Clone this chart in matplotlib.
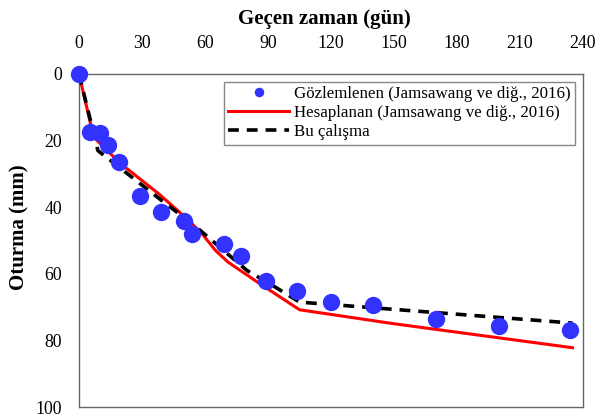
import numpy as np
import matplotlib
matplotlib.use('Agg')
import matplotlib.pyplot as plt

plt.rcParams['font.family'] = ['Liberation Serif', 'DejaVu Serif']

# Gözlemlenen oturma (Jamsawang ve diğ., 2016)
obs_day = [0, 5, 10, 14, 19, 29, 39, 50, 54, 69, 77, 89, 104, 120, 140, 170, 200, 234]
obs_mm = [0, 17.3, 17.8, 21.2, 26.5, 36.5, 41.5, 44.2, 48.0, 51.2, 54.8, 62.3, 65.2, 68.5, 69.5, 73.7, 75.7, 76.8]

# Hesaplanan (Jamsawang ve diğ., 2016)
calc_day = [0, 7, 20, 30, 38, 47, 58, 65, 71, 85, 105, 150, 235]
calc_mm = [0, 19.0, 27.0, 32.0, 36.0, 41.0, 47.5, 53.0, 56.5, 62.5, 70.8, 75.0, 82.2]

# Bu çalışma
model_day = [0, 9, 40, 55, 80, 94, 105, 235]
model_mm = [0, 23.0, 38.3, 45.5, 59.0, 64.2, 68.5, 74.8]

x_ticks = [0, 30, 60, 90, 120, 150, 180, 210, 240]
y_ticks = [0, 20, 40, 60, 80, 100]

legend_font = {'family': 'Liberation Serif', 'size': 12.2}
label_font = {'family': 'Liberation Serif', 'weight': 'bold', 'size': 15}

fig = plt.figure(figsize=(5.96, 4.18), dpi=100)
ax = fig.add_axes([79 / 596, 1 - 407 / 418, 504 / 596, 333 / 418])

ax.plot(obs_day, obs_mm, 'o', color='#3333FF', markersize=12.5, markeredgewidth=0,
        label='Gözlemlenen (Jamsawang ve diğ., 2016)', zorder=4, clip_on=False)
ax.plot(calc_day, calc_mm, '-', color='#FF0000', linewidth=2.2,
        label='Hesaplanan (Jamsawang ve diğ., 2016)', zorder=2)
ax.plot(model_day, model_mm, '--', color='black', linewidth=2.6, dashes=(3, 2.2),
        label='Bu çalışma', zorder=3)

ax.set_xlim(0, 240)
ax.set_ylim(100, 0)
ax.set_xticks(x_ticks)
ax.set_yticks(y_ticks)
ax.xaxis.tick_top()
ax.tick_params(axis='both', length=0, labelsize=12.8)
ax.tick_params(axis='x', pad=16)
ax.tick_params(axis='y', pad=12)
for s in ax.spines.values():
    s.set_color('#666666')
    s.set_linewidth(1.0)

ax.set_xlabel('Geçen zaman (gün)', label_font)
ax.xaxis.set_label_position('top')
ax.xaxis.set_label_coords(0.486, 1.165)
ax.xaxis.label.set_va('center')
ax.set_ylabel('Oturma (mm)', label_font)
ax.yaxis.set_label_coords(-0.119, 0.54)
ax.yaxis.label.set_va('center')

leg = ax.legend(loc='upper right', prop=legend_font, markerscale=0.55,
                handlelength=3.6, handletextpad=0.3, labelspacing=0.18,
                borderpad=0.25, borderaxespad=0.0, fancybox=False,
                framealpha=1, edgecolor='#888888')
leg.get_frame().set_linewidth(1.0)
# legend box sits a little inside the upper-right corner of the frame
leg.set_bbox_to_anchor(((575 - 79) / 504, (407 - 82) / 333), transform=ax.transAxes)

fig.savefig('out.png', dpi=100)
